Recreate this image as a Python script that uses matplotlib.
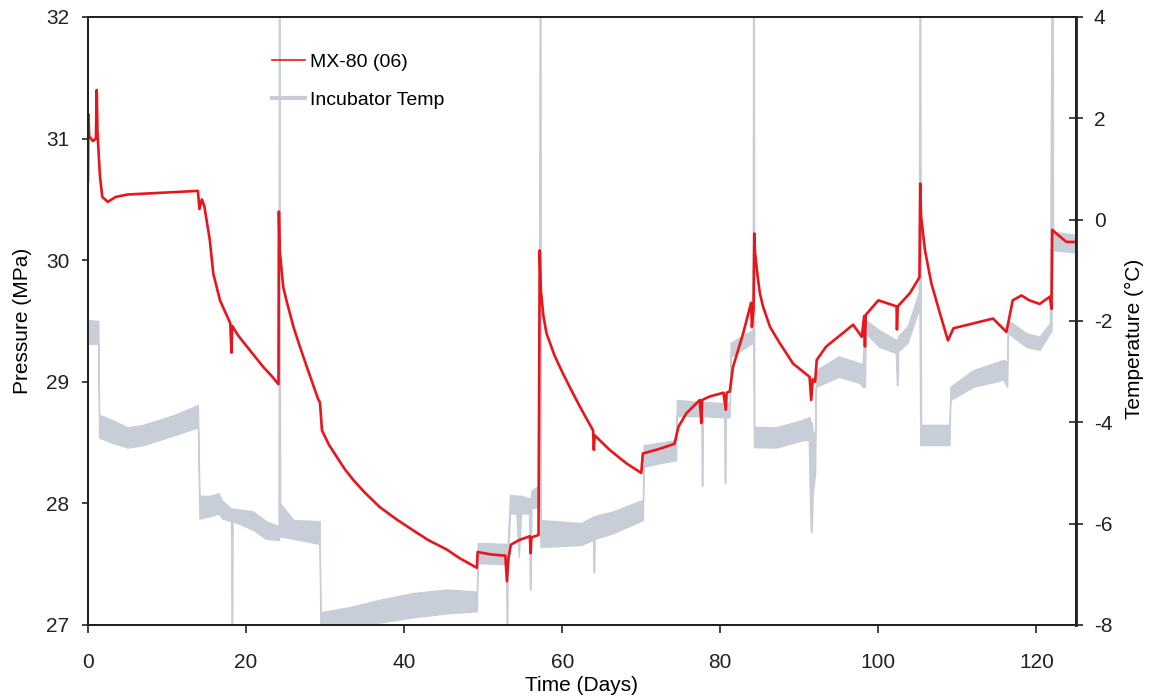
import matplotlib
matplotlib.use("Agg")
import matplotlib.pyplot as plt
from matplotlib.lines import Line2D

plt.rcParams['font.family'] = ['Liberation Sans', 'DejaVu Sans']
plt.rcParams['axes.unicode_minus'] = False

# pressure of MX-80 (06), MPa
p_day = [0.0, 0.05, 0.15, 0.6, 1.0, 1.1, 1.2, 1.5, 1.8, 2.5, 3.5, 5.0, 8.0, 11.0, 13.9,
         14.1, 14.4, 14.7, 15.4, 15.85, 16.7, 18.0, 18.15, 18.25, 19.0, 20.1, 22.2,
         23.2, 24.1, 24.15, 24.25, 24.7, 25.1, 26.0, 26.8, 27.7, 29.1, 29.35, 29.6,
         30.5, 31.5, 32.5, 33.6, 35.0, 36.9, 39.0, 41.1, 43.0, 45.4, 47.0, 49.2, 49.3,
         51.0, 52.8, 53.0, 53.2, 53.5, 54.6, 55.9, 56.0, 56.1, 57.0, 57.15, 57.3, 57.6,
         58.0, 59.0, 60.0, 61.0, 62.2, 63.9, 64.0, 64.1, 66.0, 68.1, 70.0, 70.2, 72.4,
         74.2, 74.7, 75.7, 77.4, 77.6, 77.7, 78.7, 80.4, 80.7, 80.8, 81.2, 81.6, 82.9,
         83.9, 84.0, 84.2, 84.3, 84.4, 84.7, 85.0, 85.4, 86.3, 87.5, 89.2, 91.3, 91.5,
         91.7, 92.0, 92.2, 93.4, 95.5, 96.8, 97.9, 98.2, 98.3, 98.4, 100.0, 102.3,
         102.35, 102.45, 104.0, 105.2, 105.3, 105.4, 105.9, 106.7, 107.8, 108.8, 109.5,
         112.0, 114.5, 116.2, 117.0, 118.1, 119.1, 120.4, 121.7, 121.9, 122.0, 122.5,
         123.8, 125.0]
p_val = [30.65, 31.2, 31.02, 30.98, 31.0, 31.4, 31.05, 30.7, 30.52, 30.48, 30.52, 30.54,
         30.55, 30.56, 30.57, 30.42, 30.5, 30.45, 30.17, 29.89, 29.67, 29.48, 29.24,
         29.46, 29.38, 29.29, 29.12, 29.05, 28.98, 30.40, 30.08, 29.78, 29.67, 29.45,
         29.29, 29.12, 28.86, 28.83, 28.60, 28.48, 28.38, 28.28, 28.19, 28.09, 27.97,
         27.87, 27.78, 27.70, 27.62, 27.55, 27.47, 27.6, 27.58, 27.57, 27.36, 27.55,
         27.66, 27.70, 27.73, 27.59, 27.72, 27.74, 30.08, 29.75, 29.55, 29.40, 29.22,
         29.08, 28.95, 28.80, 28.60, 28.44, 28.56, 28.44, 28.33, 28.25, 28.41, 28.45,
         28.49, 28.63, 28.74, 28.85, 28.66, 28.85, 28.88, 28.91, 28.77, 28.91, 28.92,
         29.12, 29.40, 29.65, 29.45, 29.6, 30.22, 30.06, 29.88, 29.73, 29.62, 29.45,
         29.32, 29.15, 29.04, 28.85, 29.02, 29.0, 29.18, 29.29, 29.40, 29.47, 29.37,
         29.54, 29.29, 29.55, 29.67, 29.62, 29.43, 29.62, 29.73, 29.86, 30.63, 30.36,
         30.08, 29.81, 29.56, 29.34, 29.44, 29.48, 29.52, 29.41, 29.67, 29.71, 29.67,
         29.64, 29.70, 29.6, 30.25, 30.22, 30.15, 30.15]

# incubator temperature, degC (lower and upper edge of the noisy trace)
t_day = [0.0, 1.3, 1.4, 3.0, 5.0, 7.0, 9.0, 11.0, 13.9, 14.1, 15.5, 16.5, 17.0, 18.1,
         18.15, 18.25, 18.3, 20.9, 22.5, 24.1, 24.15, 24.25, 24.3, 26.0, 29.3, 29.4,
         33.0, 37.0, 41.1, 45.4, 49.2, 49.3, 52.9, 52.95, 53.05, 53.1, 53.4, 54.2, 54.5,
         54.8, 55.8, 55.9, 56.0, 56.1, 57.0, 57.15, 57.25, 57.3, 62.4, 63.9, 63.95,
         64.05, 64.1, 66.4, 70.2, 70.3, 72.5, 74.4, 74.5, 77.6, 77.65, 77.75, 77.8,
         80.5, 80.55, 80.65, 80.7, 81.2, 81.3, 84.1, 84.15, 84.25, 84.3, 87.0, 90.5,
         91.2, 91.3, 91.45, 91.55, 91.7, 92.0, 92.1, 95.0, 97.6, 98.0, 98.3, 98.4,
         100.1, 102.2, 102.35, 102.45, 102.5, 103.7, 105.1, 105.2, 105.3, 105.4, 109.0,
         109.1, 112.0, 115.8, 116.3, 116.4, 118.7, 120.4, 121.7, 121.9, 122.05, 122.1,
         125.0]
t_lo = [-2.45, -2.45, -4.3, -4.4, -4.5, -4.45, -4.35, -4.25, -4.1, -5.9, -5.85, -5.8,
        -5.9, -5.95, -8.0, -8.0, -5.95, -6.12, -6.3, -6.32, -6.32, -6.2, -6.25, -6.3,
        -6.4, -8.0, -8.0, -7.95, -7.85, -7.77, -7.73, -6.78, -6.8, -8.0, -8.0, -6.8,
        -5.8, -5.8, -6.66, -5.8, -5.8, -7.3, -7.3, -5.7, -5.67, -5.67, -6.46, -6.46,
        -6.42, -6.32, -6.95, -6.95, -6.3, -6.19, -5.93, -4.88, -4.8, -4.75, -3.88,
        -3.88, -5.25, -5.25, -3.88, -3.9, -5.2, -5.2, -3.9, -3.9, -2.71, -2.43, -2.43,
        -4.45, -4.49, -4.5, -4.35, -4.35, -5.3, -6.16, -6.16, -5.4, -5.0, -3.3, -3.1,
        -3.22, -3.3, -3.3, -2.24, -2.51, -2.63, -3.26, -3.26, -2.6, -2.43, -1.78,
        -1.78, -4.45, -4.45, -4.45, -3.56, -3.3, -3.16, -3.3, -2.24, -2.51, -2.57,
        -2.24, -2.2, -0.6, -0.6, -0.65]
t_hi = [-1.98, -2.0, -3.85, -3.95, -4.1, -4.05, -3.95, -3.85, -3.66, -5.45, -5.45, -5.4,
        -5.55, -5.7, -5.7, -5.7, -5.7, -5.76, -5.95, -6.05, 4.5, 4.5, -5.6, -5.93,
        -5.95, -7.75, -7.65, -7.5, -7.37, -7.3, -7.34, -6.38, -6.4, -6.4, -6.4, -6.4,
        -5.43, -5.45, -5.45, -5.45, -5.5, -5.5, -5.5, -5.35, -5.25, 4.5, 4.5, -5.93,
        -5.99, -5.86, -5.86, -5.86, -5.85, -5.76, -5.53, -4.45, -4.4, -4.35, -3.56,
        -3.6, -3.6, -3.6, -3.6, -3.62, -3.62, -3.62, -3.62, -3.62, -2.43, -2.18, 4.5,
        4.5, -4.09, -4.1, -3.95, -3.9, -3.9, -4.0, -4.0, -4.2, -4.2, -2.97, -2.7,
        -2.83, -2.85, -2.0, -1.98, -2.18, -2.37, -2.37, -2.37, -2.3, -2.1, -1.45, 4.5,
        4.5, -4.05, -4.05, -3.3, -2.97, -2.77, -2.8, -1.98, -2.24, -2.31, -2.04, 4.5,
        4.5, -0.24, -0.3]

red = '#e8161c'
grey = '#c8ced7'

fig, ax = plt.subplots(figsize=(11.52, 6.99), dpi=100)
fig.subplots_adjust(left=0.0764, right=0.934, top=0.9757, bottom=0.1059)
ax2 = ax.twinx()

ax2.fill_between(t_day, t_lo, t_hi, color=grey, edgecolor=grey, linewidth=1.0)
ax.plot(p_day, p_val, color=red, linewidth=1.9)

ax.set_zorder(ax2.get_zorder() + 1)
ax.patch.set_visible(False)

ax.set_xlim(0, 125)
ax.set_ylim(27, 32)
ax2.set_ylim(-8, 4)
ax.set_xticks(range(0, 121, 20))
ax.set_yticks(range(27, 33))
ax2.set_yticks(range(-8, 5, 2))

for a in (ax, ax2):
    for s in a.spines.values():
        s.set_color('#222222')
        s.set_linewidth(1.4)
ax2.spines['right'].set_linewidth(2.0)

ax.tick_params(axis='y', direction='out', length=4.5, width=1.2, pad=9,
               labelsize=15, colors='#222222')
ax.tick_params(axis='x', direction='out', length=6, width=1.2, pad=14,
               labelsize=15, colors='#222222')
ax2.tick_params(axis='y', direction='inout', length=9.5, width=1.2, pad=8,
                labelsize=15, colors='#222222')

ax.set_xlabel('Time (Days)', fontsize=15)
ax.set_ylabel('Pressure (MPa)', fontsize=15)
ax2.set_ylabel('Temperature (°C)', fontsize=15)
ax.xaxis.set_label_coords(0.5, -0.084)
ax.yaxis.set_label_coords(-0.057, 0.5)
ax2.yaxis.set_label_coords(1.0496, 0.47)

handles = [Line2D([], [], color=red, linewidth=1.2),
           Line2D([], [], color=grey, linewidth=3.0)]
ax.legend(handles, ['MX-80 (06)', 'Incubator Temp'], loc='upper left',
          bbox_to_anchor=(0.186, 0.94), frameon=False, fontsize=14,
          handlelength=1.7, handletextpad=0.25, labelspacing=1.05,
          borderpad=0, borderaxespad=0)

fig.savefig('out.png', dpi=100)
